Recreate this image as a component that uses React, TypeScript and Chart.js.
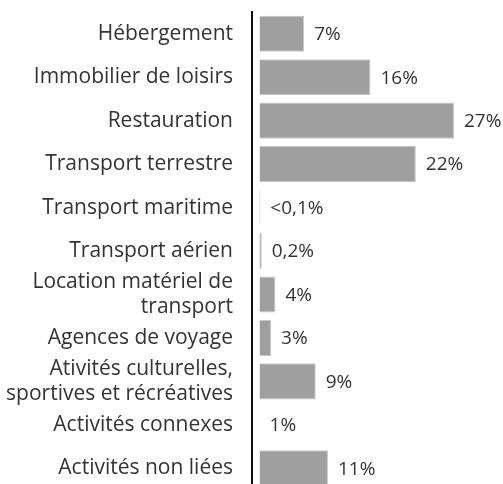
import React, { useEffect, useRef } from "react";
import { Chart, registerables } from "chart.js";

Chart.register(...registerables);

const categories: (string | string[])[] = [
  "Hébergement",
  "Immobilier de loisirs",
  "Restauration",
  "Transport terrestre",
  "Transport maritime",
  "Transport aérien",
  ["Location matériel de", "transport"],
  "Agences de voyage",
  ["Ativités culturelles,", "sportives et récréatives"],
  "Activités connexes",
  "Activités non liées",
];

// bar lengths as drawn in the picture
const values = [6.2, 15.4, 27.0, 21.7, 0.1, 0.3, 2.2, 1.6, 7.8, 0, 9.5];

// printed labels
const valueLabels = ["7%", "16%", "27%", "22%", "<0,1%", "0,2%", "4%", "3%", "9%", "1%", "11%"];

const TEXT = "#333333";

export default function App() {
  const ref = useRef<HTMLCanvasElement | null>(null);

  useEffect(() => {
    if (!ref.current) return;
    const labelPlugin = {
      id: "valueLabels",
      afterDatasetsDraw(chart: any) {
        const ctx = chart.ctx;
        const meta = chart.getDatasetMeta(0);
        ctx.save();
        ctx.font = '19px "Open Sans"';
        ctx.fillStyle = TEXT;
        ctx.textAlign = "left";
        ctx.textBaseline = "middle";
        meta.data.forEach((el: any, i: number) => {
          ctx.fillText(valueLabels[i], el.x + 10, el.y + 1);
        });
        ctx.restore();
      },
    };

    const chart = new Chart(ref.current, {
      type: "bar",
      data: {
        labels: categories,
        datasets: [
          {
            data: values,
            backgroundColor: "#9f9f9f",
            borderColor: "#c6c6c6",
            borderWidth: 1,
            borderSkipped: "start",
            categoryPercentage: 1,
            barPercentage: 0.83,
          },
        ],
      },
      options: {
        indexAxis: "y",
        animation: false,
        responsive: false,
        maintainAspectRatio: false,
        layout: { padding: { top: 12, bottom: 2, left: 0, right: 0 } },
        plugins: {
          legend: { display: false },
          tooltip: { enabled: false },
        },
        scales: {
          x: {
            display: false,
            min: -1.05,
            max: 33.81,
          },
          y: {
            afterFit: (scale: any) => {
              scale.width = 252;
              scale.paddingTop = 0;
              scale.paddingBottom = 0;
            },
            grid: { display: false, drawTicks: true, tickLength: 19 },
            border: { display: true, color: "#111111", width: 2 },
            ticks: {
              autoSkip: false,
              padding: 0,
              color: TEXT,
              font: { family: '"Open Sans"', size: 21, lineHeight: 1.2 },
            },
          },
        },
      },
      plugins: [labelPlugin],
    });
    return () => chart.destroy();
  }, []);

  return (
    <div style={{ position: "absolute", left: 0, top: 0, width: 503, height: 492, background: "#fff" }}>
      <canvas ref={ref} width={503} height={492} style={{ display: "block" }} />
    </div>
  );
}
